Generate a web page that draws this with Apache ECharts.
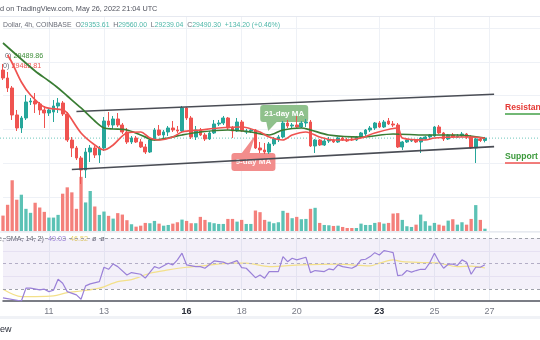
<!DOCTYPE html>
<html>
<head>
<meta charset="utf-8">
<script src="https://cdn.jsdelivr.net/npm/echarts@6.0.0/dist/echarts.min.js"></script>
<style>
html,body{margin:0;padding:0;background:#ffffff;}
#chart{width:540px;height:340px;}
</style>
</head>
<body>
<div id="chart"></div>
<script>
// BTC/USD 4h candles, Coinbase, 9 May 08:00 → 26 May 20:00 (UTC)
const ohlc = [
  [33517,33872,32926,33045],[33045,33399,32217,32453],[32453,32572,30562,30858],[30858,31153,29912,30089],
  [30089,30799,29794,30680],[30680,32040,30562,31626],[31626,31862,31448,31685],[31685,32158,30976,31508],
  [31508,31626,30858,31153],[31153,31389,30089,30976],[30976,31271,30799,31153],[31035,31744,30444,31389],
  [31389,31862,30976,31567],[31567,31685,30799,30917],[30917,31035,29261,29380],[29380,29557,28375,28907],
  [28907,29025,28197,28316],[28316,28434,26779,27606],[27606,28907,27133,28670],[28670,29084,28079,28907],
  [28907,29025,28316,28493],[28493,29025,28020,28907],[28907,30739,28729,30503],[30503,31035,30148,30266],
  [30266,30799,30030,30621],[30621,30976,30148,30266],[30266,30384,29734,29853],[29853,30089,29143,29261],
  [29261,29616,29143,29498],[29498,29616,29202,29261],[29261,29439,28907,28966],[28966,29143,28552,28670],
  [28670,29498,28611,29380],[29380,30089,29320,29971],[29971,30266,29616,29675],[29675,29971,29498,29853],
  [29853,30207,29616,30089],[30089,30503,29853,29971],[29971,30207,29794,29912],[29912,31389,29853,31271],
  [31271,31330,30562,30680],[30680,30799,29439,29557],[29557,30207,29380,29971],[29971,30089,29616,29675],
  [29675,29794,29320,29439],[29439,29912,29380,29794],[29794,30562,29734,30325],[30325,30562,30207,30384],
  [30384,30799,30266,30680],[30680,30739,29971,30089],[30089,30207,29498,29912],[29912,30680,29853,30444],
  [30444,30562,29853,29912],[29853,30030,29734,29912],[29912,30089,29794,29971],[29971,30030,28848,28907],
  [28907,29261,28611,28789],[28789,29202,28552,28670],[28670,29261,28552,29143],[29143,29557,29025,29439],
  [29439,29675,29261,29557],[29557,30503,29498,30384],[30384,30562,30089,30207],[30207,30384,30089,30266],
  [30266,30799,30089,30148],[30148,30503,30089,30384],[30384,30621,30148,30444],[30444,30562,28966,29025],
  [29025,29439,28611,29380],[29380,29439,29025,29084],[29084,29439,29025,29320],[29320,29557,29202,29380],
  [29380,29439,29202,29261],[29261,29557,29202,29498],[29498,29557,29320,29380],[29380,29498,29261,29320],
  [29439,29557,29320,29380],[29380,29616,29320,29557],[29557,29853,29498,29794],[29734,30030,29616,29971],
  [29971,30207,29853,30089],[30089,30444,29971,30384],[30384,30503,30089,30148],[30148,30562,30089,30444],
  [30503,30680,30266,30325],[30325,30503,30148,30266],[30266,30384,28907,28966],[28966,29320,28789,29261],
  [29261,29439,29202,29380],[29320,29439,29261,29350],[29380,29439,29202,29261],[29261,29557,28611,29498],
  [29439,29616,29380,29557],[29557,29734,29439,29675],[29616,30207,29557,30148],[30148,30266,29734,29794],
  [29794,29853,29320,29439],[29439,29734,29380,29675],[29675,29794,29498,29557],[29557,29734,29498,29616],
  [29616,29853,29557,29734],[29734,29794,29439,29557],[29557,29675,28848,28907],[28907,29498,28020,29440],
  [29440,29557,29261,29353.61],[29353.61,29560.00,29239.04,29490.30]
];

const volumes = [
  3010,5120,9910,6110,7090,4330,3550,5520,4590,3740,2620,2620,3150,7290,8530,7550,4330,10580,5580,7820,
  4790,3150,3800,2960,2420,3490,3210,2110,1320,850,1040,1580,1520,1970,1440,1040,1180,1440,1710,2230,
  1970,1520,1520,2760,2170,1710,1520,1380,1380,2360,2360,1830,2170,1380,1380,4000,3680,2170,1830,1520,
  1710,3940,3550,2500,2760,2300,2360,4330,4530,1580,1180,1120,990,1040,790,590,590,590,1440,1180,
  1180,1580,1710,1440,1580,3410,3490,2170,930,790,1240,3210,1910,1040,1580,1240,1040,2030,2300,1240,
  1710,1240,2360,5060,2170,450
];

// moving averages, [candle index, price]
const ma21 = [[0,35113],[7,33458],[10,32867],[12,32453],[14,31980],[17,31271],[20,30503],[22,30089],
  [24,30030],[27,29971],[30,29675],[33,29380],[36,29498],[39,29675],[43,29853],[49,29971],[54,29853],
  [58,29675],[61,29971],[65,30089],[67,29971],[71,29675],[78,29557],[85,29734],[92,29675],[99,29675],[105,29489.86]];
const ma9 = [[1,34404],[2,33931],[4,32808],[6,32040],[9,31330],[13,31153],[14,30976],[17,29794],[20,29084],
  [22,28789],[24,29084],[27,29794],[30,29853],[32,29498],[34,29380],[37,29557],[39,29853],[43,29971],
  [47,30089],[52,30148],[56,29853],[58,29557],[61,29380],[63,29675],[66,29853],[69,29557],[72,29380],
  [75,29380],[78,29498],[81,29794],[86,30089],[87,29498],[92,29380],[94,29498],[99,29557],[102,29557],[105,29482.81]];

// RSI(14) and its SMA(14), [candle index, value]
const rsi = [[0,23],[4,20.5],[5,30.6],[6,30.6],[8,29.2],[9,29.8],[10,27.9],[11,29],[12,37.7],[13,34.5],
  [14,27.9],[16,25.3],[17,21.9],[18,32.4],[19,34],[21,35.8],[22,47.1],[23,45.5],[24,49.7],[25,47.6],
  [27,41],[28,42.9],[30,41.6],[31,38.5],[33,47.6],[34,46.3],[36,50.3],[37,49],[38,52.9],[39,58.2],
  [40,49],[42,47.6],[43,47.6],[44,46.3],[46,52.1],[48,51.1],[49,49.7],[51,52.3],[52,46.8],[53,46.3],
  [55,38.9],[56,41],[57,38.5],[58,43.7],[60,43.7],[61,55.5],[62,51.5],[63,54.2],[64,52.9],[66,55],
  [67,42.9],[68,44.5],[70,43.7],[71,45.8],[72,45],[73,49],[74,47.6],[76,46.3],[77,48.2],[78,52.9],
  [79,53.4],[80,55.5],[81,58.6],[82,56.8],[83,60.2],[84,59.5],[85,58.6],[86,40.5],[87,41],[88,44.5],
  [89,43.3],[90,44.5],[91,45.5],[92,45.5],[93,50.8],[94,58.2],[95,51.5],[96,46.3],[97,49.5],[98,49.5],
  [99,48.5],[100,52.9],[101,51.1],[102,41.6],[103,47.1],[104,47.1],[105,49.03]];
const rsiMa = [[0,29.8],[4,24],[7,24],[11,24.5],[14,27.1],[17,28.4],[21,30.6],[25,35.8],[28,37.3],
  [32,42.4],[36,45],[40,47.1],[44,48.4],[50,50.3],[53,50.3],[58,47.6],[65,49],[73,49.5],[80,48.2],
  [82,50.3],[85,52.9],[87,51.5],[92,50.8],[95,50.3],[99,47.6],[102,48],[105,46.52]];

// channel drawn on the price pane, [candle index, price]
const channelTop = [[16,31060],[107,32081]];
const channelBottom = [[15,27636],[107,28988]];

const dayTicks = ['11','13','16','18','20','23','25','27'];
const boldTicks = ['16','23'];

// 4h slots from 9 May 08:00 UTC, with empty space on the right
const slotCount = 118;
const startMs = Date.UTC(2022, 4, 9, 8);
const categories = [];
for (let i = 0; i < slotCount; i++) {
  const d = new Date(startMs + i * 4 * 3600 * 1000);
  categories.push(d.getUTCDate() + ' ' + String(d.getUTCHours()).padStart(2, '0') + ':00');
}
const isDayTick = (idx, val) => {
  const parts = String(val).split(' ');
  return parts[1] === '00:00' && dayTicks.indexOf(parts[0]) >= 0;
};

const UP = '#26a69a', DOWN = '#ef5350';
const VOL_UP = '#5cc2b5', VOL_DOWN = '#f4807b';
const GRID = '#eef1f6';
const FONT = 'Liberation Sans, Arial, sans-serif';

const candleData = ohlc.map(r => [r[0], r[3], r[2], r[1]]);
const volumeData = volumes.map((v, i) => ({
  value: v,
  itemStyle: { color: ohlc[i][3] >= ohlc[i][0] ? VOL_UP : VOL_DOWN }
}));
const last = ohlc[ohlc.length - 1];

const chart = echarts.init(document.getElementById('chart'), null, { renderer: 'canvas' });

const xBase = {
  type: 'category', data: categories, boundaryGap: false,
  axisTick: { show: false },
  splitLine: { show: true, interval: isDayTick, lineStyle: { color: GRID, width: 1 } }
};

chart.setOption({
  animation: false,
  backgroundColor: '#ffffff',
  textStyle: { fontFamily: FONT },
  grid: [
    { left: 3, right: -0.5, top: 16, height: 215 },
    { left: 3, right: -0.5, top: 233, height: 68 }
  ],
  xAxis: [
    Object.assign({}, xBase, { gridIndex: 0, axisLine: { show: false }, axisLabel: { show: false, interval: isDayTick } }),
    Object.assign({}, xBase, {
      gridIndex: 1,
      axisLine: { show: true, lineStyle: { color: '#50535e', width: 1.5 } },
      axisLabel: {
        show: true, interval: isDayTick, margin: 6, fontSize: 9, color: '#787b86', fontFamily: FONT,
        formatter: v => {
          const d = String(v).split(' ')[0];
          return boldTicks.indexOf(d) >= 0 ? '{b|' + d + '}' : d;
        },
        rich: { b: { fontWeight: 'bold', color: '#2a2e39', fontSize: 9, fontFamily: FONT } }
      }
    })
  ],
  yAxis: [
    { gridIndex: 0, type: 'value', min: 24000, max: 36709, interval: 2000, axisLabel: { show: false },
      axisLine: { show: false }, axisTick: { show: false }, splitLine: { show: true, lineStyle: { color: GRID } } },
    { gridIndex: 0, type: 'value', min: 0, max: 42000, show: false, splitLine: { show: false } },
    { gridIndex: 1, type: 'value', min: 20.5, max: 74.1, axisLabel: { show: false }, axisLine: { show: false },
      axisTick: { show: false }, splitLine: { show: false } }
  ],
  series: [
    {
      name: 'Volume', type: 'bar', xAxisIndex: 0, yAxisIndex: 1, data: volumeData,
      barWidth: 3.3, clip: false, silent: true
    },
    {
      name: 'BTCUSD', type: 'candlestick', xAxisIndex: 0, yAxisIndex: 0, data: candleData,
      barWidth: 3.2, clip: false,
      itemStyle: { color: UP, color0: DOWN, borderColor: UP, borderColor0: DOWN, borderWidth: 1 },
      markLine: {
        silent: true, symbol: 'none', label: { show: false },
        data: [
          [{ coord: [categories[channelTop[0][0]], channelTop[0][1]] }, { coord: [categories[channelTop[1][0]], channelTop[1][1]] }],
          [{ coord: [categories[channelBottom[0][0]], channelBottom[0][1]] }, { coord: [categories[channelBottom[1][0]], channelBottom[1][1]] }]
        ],
        lineStyle: { color: '#4a4d55', width: 1.6, type: 'solid' }
      }
    },
    {
      name: 'MA21', type: 'line', xAxisIndex: 0, yAxisIndex: 0, data: ma21,
      smooth: 0.3, symbol: 'none', lineStyle: { color: '#3a7d34', width: 1.7 }, z: 5
    },
    {
      name: 'MA9', type: 'line', xAxisIndex: 0, yAxisIndex: 0, data: ma9,
      smooth: 0.3, symbol: 'none', lineStyle: { color: '#ef5350', width: 1.7 }, z: 5
    },
    {
      name: 'RSI', type: 'line', xAxisIndex: 1, yAxisIndex: 2, data: rsi,
      symbol: 'none', lineStyle: { color: '#9a80d8', width: 1.2 }, z: 5,
      markArea: {
        silent: true, itemStyle: { color: 'rgba(126,87,194,0.09)' },
        data: [[{ yAxis: 30 }, { yAxis: 70 }]]
      },
      markLine: {
        silent: true, symbol: 'none', label: { show: false },
        data: [
          { yAxis: 70, lineStyle: { color: '#9ea1aa', type: [3, 3], width: 1 } },
          { yAxis: 50, lineStyle: { color: '#b3aec6', type: [3, 3], width: 1 } },
          { yAxis: 30, lineStyle: { color: '#9ea1aa', type: [3, 3], width: 1 } },
          { yAxis: 60, lineStyle: { color: '#e6e1f2', type: 'solid', width: 1 } },
          { yAxis: 40, lineStyle: { color: '#e6e1f2', type: 'solid', width: 1 } }
        ]
      }
    },
    {
      name: 'RSI MA', type: 'line', xAxisIndex: 1, yAxisIndex: 2, data: rsiMa,
      smooth: 0.3, symbol: 'none', lineStyle: { color: '#f3e08a', width: 1.2 }, z: 4
    }
  ]
});

// anchors taken from the price scale
const gTip = chart.convertToPixel({ gridIndex: 0 }, [58, 29853]);
const rTip = chart.convertToPixel({ gridIndex: 0 }, [55, 29675]);
const lastY = chart.convertToPixel({ gridIndex: 0 }, [0, last[3]])[1];

const label = (x, y, text, fill, size, weight, align) => ({
  type: 'text', x: x, y: y, silent: true,
  style: { text: text, fill: fill, fontSize: size, fontWeight: weight || 'normal', fontFamily: FONT,
    textAlign: align || 'left', textVerticalAlign: 'middle' }
});

chart.setOption({
  graphic: [
    // pane borders
    { type: 'line', shape: { x1: 0, y1: 16.5, x2: 540, y2: 16.5 }, style: { stroke: '#e6e9f0', lineWidth: 1 }, silent: true },
    { type: 'line', shape: { x1: 0, y1: 232, x2: 540, y2: 232 }, style: { stroke: '#e0e3eb', lineWidth: 1 }, silent: true },
    { type: 'rect', shape: { x: 0, y: 316, width: 540, height: 3 }, style: { fill: '#f0f2f6' }, silent: true },
    // last price line across the whole pane
    { type: 'line', z: 1, shape: { x1: 0, y1: lastY, x2: 540, y2: lastY }, style: { stroke: '#6cc7bb', lineWidth: 1, lineDash: [1, 2] }, silent: true },
    // header
    label(0, 9, 'd on TradingView.com, May 26, 2022 21:04 UTC', '#50535e', 7.3),
    {
      type: 'text', x: 3, y: 25, silent: true,
      style: {
        text: 'Dollar, 4h, COINBASE  {l|O}{v|29353.61}  {l|H}{v|29560.00}  {l|L}{v|29239.04}  {l|C}{v|29490.30}  {v|+134.20 (+0.46%)}',
        fill: '#6a6d78', fontSize: 6.9, fontFamily: FONT, textVerticalAlign: 'middle',
        rich: {
          l: { fill: '#6a6d78', fontSize: 6.9, fontFamily: FONT },
          v: { fill: '#4fb7a9', fontSize: 6.9, fontFamily: FONT }
        }
      }
    },
    // moving-average legend values
    {
      type: 'text', x: 5, y: 56, silent: true,
      style: { text: '0) {g|29489.86}', fill: '#6a6d78', fontSize: 7.2, fontFamily: FONT, textVerticalAlign: 'middle',
        rich: { g: { fill: '#3f8f3a', fontSize: 7.2, fontFamily: FONT } } }
    },
    {
      type: 'text', x: 3, y: 66, silent: true,
      style: { text: '0) {r|29482.81}', fill: '#6a6d78', fontSize: 7.2, fontFamily: FONT, textVerticalAlign: 'middle',
        rich: { r: { fill: '#ef5350', fontSize: 7.2, fontFamily: FONT } } }
    },
    // RSI legend
    {
      type: 'text', x: -2, y: 239.5, silent: true,
      style: { text: 'e, SMA, 14, 2)  {p|49.03}  {y|46.52}  ø  ø', fill: '#6a6d78', fontSize: 7.2, fontFamily: FONT, textVerticalAlign: 'middle',
        rich: { p: { fill: '#9a80d8', fontSize: 7.2, fontFamily: FONT }, y: { fill: '#e8d36a', fontSize: 7.2, fontFamily: FONT } } }
    },
    // 21-day MA callout
    { type: 'rect', shape: { x: gTip[0] - 9, y: gTip[1] - 27, width: 48, height: 17, r: 3 }, style: { fill: '#8fc18c' }, silent: true },
    { type: 'polygon', shape: { points: [[gTip[0] - 3, gTip[1] - 10.5], [gTip[0] + 8, gTip[1] - 10.5], [gTip[0] - 1, gTip[1] - 1]] }, style: { fill: '#8fc18c' }, silent: true },
    label(gTip[0] + 15, gTip[1] - 18.5, '21-day MA', '#ffffff', 8, 'bold', 'center'),
    // 9-day MA callout
    { type: 'rect', shape: { x: rTip[0] - 24, y: rTip[1] + 18, width: 44, height: 18, r: 3 }, style: { fill: '#f28d8c' }, silent: true },
    { type: 'polygon', shape: { points: [[rTip[0] - 14, rTip[1] + 18.5], [rTip[0] - 6, rTip[1] + 18.5], [rTip[0], rTip[1]]] }, style: { fill: '#f28d8c' }, silent: true },
    label(rTip[0] - 2, rTip[1] + 27, '9-day MA', '#fff4f4', 8, 'bold', 'center'),
    // level labels on the right
    label(505, 108, 'Resistance', '#e53935', 8.6, 'bold'),
    { type: 'line', shape: { x1: 505, y1: 114, x2: 540, y2: 114 }, style: { stroke: '#43a047', lineWidth: 1.5 }, silent: true },
    label(505, 157, 'Support', '#3c9a3c', 8.6, 'bold'),
    { type: 'line', shape: { x1: 505, y1: 163, x2: 540, y2: 163 }, style: { stroke: '#ef5350', lineWidth: 1.5 }, silent: true },
    // footer
    label(0, 330, 'ew', '#2a2e39', 9)
  ]
});
</script>
</body>
</html>
